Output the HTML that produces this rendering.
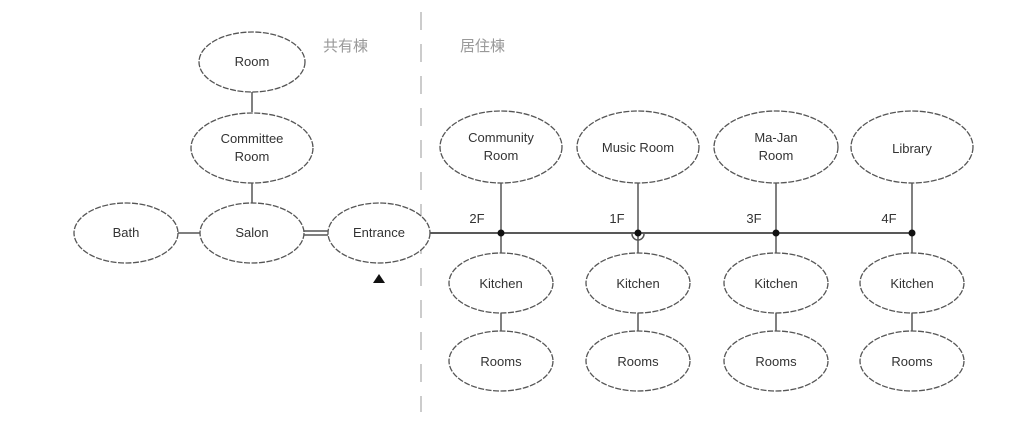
<!DOCTYPE html>
<html><head><meta charset="utf-8"><style>body{margin:0;background:#fff}svg{display:block}</style></head><body>
<svg width="1024" height="441" viewBox="0 0 1024 441" xmlns="http://www.w3.org/2000/svg" font-family="Liberation Sans, sans-serif" font-size="13" fill="none">
<g stroke="#bbb" stroke-width="1.5" stroke-dasharray="18,14"><line x1="421" y1="12" x2="421" y2="412"/></g>
<g font-family="Liberation Sans, Noto Sans CJK JP, sans-serif" font-size="15" fill="#999" stroke="none">
<text x="323" y="51">共有棟</text><text x="460" y="51">居住棟</text></g>
<g stroke="#555" stroke-width="1.5">
<line x1="252" y1="92" x2="252" y2="112"/><line x1="252" y1="183" x2="252" y2="203"/>
<line x1="178" y1="233" x2="200" y2="233"/>
<line x1="304" y1="231" x2="328" y2="231"/><line x1="304" y1="235" x2="328" y2="235"/>
<line x1="430" y1="233" x2="912" y2="233" stroke="#222"/>
<line x1="501" y1="183" x2="501" y2="253"/><line x1="638" y1="183" x2="638" y2="253"/>
<line x1="776" y1="183" x2="776" y2="253"/><line x1="912" y1="183" x2="912" y2="253"/>
<line x1="501" y1="313" x2="501" y2="331"/><line x1="638" y1="313" x2="638" y2="331"/>
<line x1="776" y1="313" x2="776" y2="331"/><line x1="912" y1="313" x2="912" y2="331"/>
<path d="M632 234 A6 6 0 0 0 644 234"/>
</g>
<g fill="#111"><circle cx="501" cy="233" r="3.5"/><circle cx="638" cy="233" r="3.5"/><circle cx="776" cy="233" r="3.5"/><circle cx="912" cy="233" r="3.5"/>
<path d="M373 283 L379 274 L385 283 Z"/></g>
<g stroke="#555" stroke-width="1.3" stroke-dasharray="6,1.5" fill="#fff">
<ellipse cx="252" cy="62" rx="53" ry="30"/><ellipse cx="252" cy="148" rx="61" ry="35"/>
<ellipse cx="252" cy="233" rx="52" ry="30"/><ellipse cx="126" cy="233" rx="52" ry="30"/>
<ellipse cx="379" cy="233" rx="51" ry="30"/>
<ellipse cx="501" cy="147" rx="61" ry="36"/><ellipse cx="638" cy="147" rx="61" ry="36"/>
<ellipse cx="776" cy="147" rx="62" ry="36"/><ellipse cx="912" cy="147" rx="61" ry="36"/>
<ellipse cx="501" cy="283" rx="52" ry="30"/><ellipse cx="638" cy="283" rx="52" ry="30"/>
<ellipse cx="776" cy="283" rx="52" ry="30"/><ellipse cx="912" cy="283" rx="52" ry="30"/>
<ellipse cx="501" cy="361" rx="52" ry="30"/><ellipse cx="638" cy="361" rx="52" ry="30"/>
<ellipse cx="776" cy="361" rx="52" ry="30"/><ellipse cx="912" cy="361" rx="52" ry="30"/>
</g>
<g fill="#333" stroke="none" text-anchor="middle">
<text x="252" y="66">Room</text><text x="252" y="143">Committee</text><text x="252" y="161">Room</text>
<text x="252" y="237">Salon</text><text x="126" y="237">Bath</text><text x="379" y="237">Entrance</text>
<text x="501" y="142">Community</text><text x="501" y="160">Room</text>
<text x="638" y="152">Music Room</text>
<text x="776" y="142">Ma-Jan</text><text x="776" y="160">Room</text>
<text x="912" y="153">Library</text>
<text x="501" y="288">Kitchen</text><text x="638" y="288">Kitchen</text><text x="776" y="288">Kitchen</text><text x="912" y="288">Kitchen</text>
<text x="501" y="366">Rooms</text><text x="638" y="366">Rooms</text><text x="776" y="366">Rooms</text><text x="912" y="366">Rooms</text>
<text x="477" y="223">2F</text><text x="617" y="223">1F</text><text x="754" y="223">3F</text><text x="889" y="223">4F</text>
</g>
</svg>
</body></html>
